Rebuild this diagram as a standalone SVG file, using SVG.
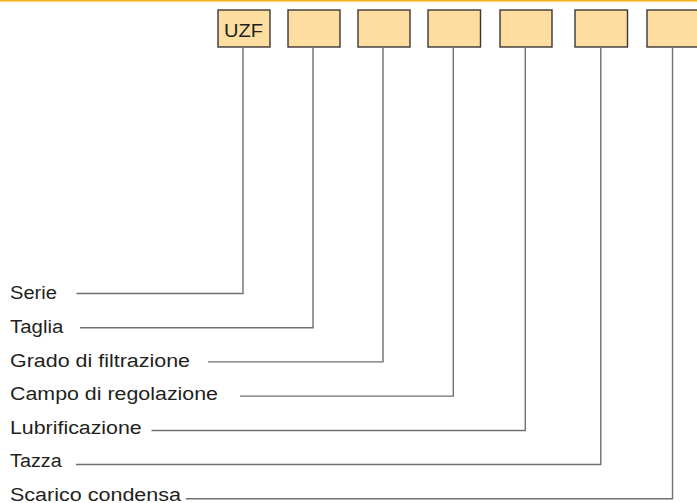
<svg xmlns="http://www.w3.org/2000/svg" width="697" height="503" viewBox="0 0 697 503">
<style>
.box{fill:#fddea0;stroke:#3a3632;stroke-width:1.4}
.lbl{font-family:"Liberation Sans",Arial,sans-serif;font-size:18px;fill:#231f20}
.con{fill:none;stroke:#707070;stroke-width:1.4}
</style>
<rect x="0" y="0" width="697" height="503" fill="#ffffff"/>
<rect x="0" y="0" width="697" height="1.6" fill="#f5b51c"/>
<g id="node-serie-box"><rect class="box" x="218" y="10" width="52" height="37"/><text class="lbl" x="224" y="37.3" font-size="18.5" textLength="39" lengthAdjust="spacingAndGlyphs">UZF</text></g>
<g id="node-taglia-box"><rect class="box" x="288" y="10" width="52" height="37"/></g>
<g id="node-grado-box"><rect class="box" x="358" y="10" width="52" height="37"/></g>
<g id="node-campo-box"><rect class="box" x="428" y="10" width="52.5" height="37"/></g>
<g id="node-lubrif-box"><rect class="box" x="500" y="10" width="52" height="37"/></g>
<g id="node-tazza-box"><rect class="box" x="575" y="10" width="52.5" height="37"/></g>
<g id="node-scarico-box"><rect class="box" x="647" y="10" width="52" height="37"/></g>
<g id="node-serie"><text class="lbl" x="10" y="299" textLength="47" lengthAdjust="spacingAndGlyphs">Serie</text></g>
<g id="node-taglia"><text class="lbl" x="10" y="333" textLength="53.3" lengthAdjust="spacingAndGlyphs">Taglia</text></g>
<g id="node-grado"><text class="lbl" x="10" y="366.5" textLength="180" lengthAdjust="spacingAndGlyphs">Grado di filtrazione</text></g>
<g id="node-campo"><text class="lbl" x="10" y="400" textLength="208" lengthAdjust="spacingAndGlyphs">Campo di regolazione</text></g>
<g id="node-lubrif"><text class="lbl" x="10" y="433.7" textLength="131.7" lengthAdjust="spacingAndGlyphs">Lubrificazione</text></g>
<g id="node-tazza"><text class="lbl" x="10" y="467.3" textLength="51.7" lengthAdjust="spacingAndGlyphs">Tazza</text></g>
<g id="node-scarico"><text class="lbl" x="10" y="500.5" textLength="171" lengthAdjust="spacingAndGlyphs">Scarico condensa</text></g>
<g id="connectors">
<polyline class="con" points="76.5,293.5 243,293.5 243,47"/>
<polyline class="con" points="80,327.7 313,327.7 313,47"/>
<polyline class="con" points="208,361.9 383,361.9 383,47"/>
<polyline class="con" points="240,396.1 453.3,396.1 453.3,47"/>
<polyline class="con" points="151.5,430.5 525.3,430.5 525.3,47"/>
<polyline class="con" points="76,464.5 600.8,464.5 600.8,47"/>
<polyline class="con" points="186,498.7 672.5,498.7 672.5,47"/>
</g>
</svg>
